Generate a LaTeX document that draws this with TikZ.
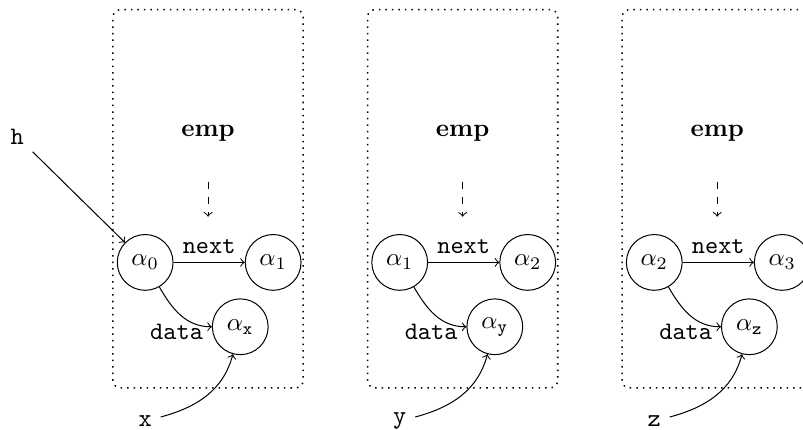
\documentclass[tikz,border=0pt]{standalone}
\usepackage{amsmath}
\usepackage{tikz}

\begin{document}
\begin{tikzpicture}[>=to,
    cell/.style={circle, draw, minimum size=0.78cm, inner sep=0pt},
    frame/.style={draw, dotted, semithick, rounded corners=3pt, minimum width=2.66cm, minimum height=5.29cm},
    var/.style={font=\ttfamily}
]
  \useasboundingbox (0,0) rectangle (11.23,6.01);
  \clip (0,0) rectangle (11.23,6.01);
  \foreach \i/\a/\b/\v in {0/0/1/x,1/1/2/y,2/2/3/z}{
    \begin{scope}[xshift=\i*3.56cm]
      \node[frame] (box\i) at (2.91,3.23) {};
      \node[font=\bfseries] (emp\i) at (2.91,4.14) {emp};
      \coordinate (top\i) at (2.91,3.47);
      \coordinate (tip\i) at (2.91,2.98);
      \node[cell] (p\i) at (2.03,2.34) {$\alpha_{\a}$};
      \node[cell] (q\i) at (3.82,2.34) {$\alpha_{\b}$};
      \node[cell] (d\i) at (3.36,1.44) {$\alpha_{\mathtt{\v}}$};
      \node[var] (v\i) at (2.03,0.12) {\v};
    \end{scope}
    \draw[->, dashed] (top\i) -- (tip\i);
    \draw[->] (p\i) -- node[above, var] {next} (q\i);
    \draw[->] (p\i) to[out=-60, in=180] node[pos=1, anchor=east, yshift=-2pt, var] {data} (d\i);
    \draw[->] (v\i) to[out=15, in=-105] (d\i);
  }
  \node[var] (h) at (0.24,4.10) {h};
  \draw[->] (h) -- (p0);
\end{tikzpicture}
\end{document}
